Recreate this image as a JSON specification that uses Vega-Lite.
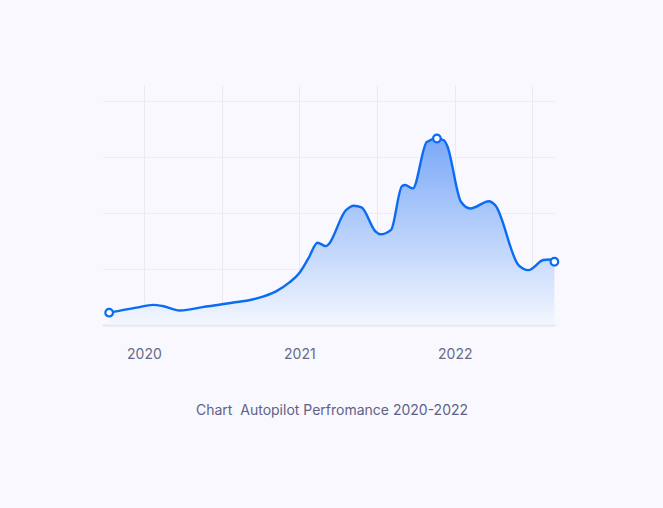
{
  "$schema": "https://vega.github.io/schema/vega-lite/v6.json",
  "width": 453,
  "height": 240,
  "autosize": {"type": "none"},
  "padding": {"left": 102, "top": 85, "right": 108, "bottom": 183},
  "background": "#F8F8FE",
  "config": {
    "view": {"stroke": null},
    "font": "Inter",
    "axis": {"labelFont": "Inter", "titleFont": "Inter"}
  },
  "data": {
    "values": [
      {"t": 2019.776, "v": 0.22},
      {"t": 2019.95, "v": 0.31},
      {"t": 2020.06, "v": 0.36},
      {"t": 2020.12, "v": 0.34},
      {"t": 2020.23, "v": 0.26},
      {"t": 2020.4, "v": 0.33},
      {"t": 2020.6, "v": 0.41},
      {"t": 2020.72, "v": 0.47},
      {"t": 2020.85, "v": 0.6},
      {"t": 2020.936, "v": 0.76},
      {"t": 2021.0, "v": 0.93},
      {"t": 2021.06, "v": 1.2},
      {"t": 2021.117, "v": 1.47},
      {"t": 2021.17, "v": 1.41},
      {"t": 2021.3, "v": 2.05},
      {"t": 2021.35, "v": 2.13},
      {"t": 2021.4, "v": 2.1},
      {"t": 2021.49, "v": 1.67},
      {"t": 2021.52, "v": 1.62},
      {"t": 2021.59, "v": 1.7},
      {"t": 2021.66, "v": 2.48},
      {"t": 2021.68, "v": 2.5},
      {"t": 2021.73, "v": 2.44},
      {"t": 2021.82, "v": 3.27},
      {"t": 2021.885, "v": 3.33},
      {"t": 2021.93, "v": 3.3},
      {"t": 2021.95, "v": 3.21},
      {"t": 2022.04, "v": 2.2},
      {"t": 2022.1, "v": 2.08},
      {"t": 2022.22, "v": 2.21},
      {"t": 2022.26, "v": 2.14},
      {"t": 2022.41, "v": 1.07},
      {"t": 2022.474, "v": 0.98},
      {"t": 2022.57, "v": 1.16},
      {"t": 2022.61, "v": 1.17},
      {"t": 2022.641, "v": 1.13}
    ]
  },
  "encoding": {
    "x": {
      "field": "t",
      "type": "quantitative",
      "scale": {"domain": [2019.73, 2022.645], "nice": false, "zero": false},
      "axis": {
        "values": [2020, 2020.5, 2021, 2021.5, 2022, 2022.5],
        "labelExpr": "datum.value % 1 === 0 ? format(datum.value, 'd') : ''",
        "grid": true,
        "gridColor": "#E9E9F1",
        "gridWidth": 1,
        "ticks": false,
        "domain": true,
        "domainColor": "#E6E6EE",
        "domainWidth": 2,
        "labelFontSize": 14,
        "labelColor": "#676A8A",
        "labelPadding": 22,
        "labelBaseline": "top",
        "title": "Chart\u00a0 Autopilot Perfromance 2020-2022",
        "titleFontSize": 14,
        "titleFontWeight": "normal",
        "titleColor": "#5F6287",
        "titleX": 229.5,
        "titleY": 85,
        "titleBaseline": "middle",
        "titleAlign": "center"
      }
    },
    "y": {
      "field": "v",
      "type": "quantitative",
      "scale": {"domain": [0, 4.286], "nice": false},
      "axis": {
        "values": [1, 2, 3, 4],
        "grid": true,
        "gridColor": "#EDEDF3",
        "labels": false,
        "ticks": false,
        "domain": false,
        "title": null
      }
    }
  },
  "layer": [
    {
      "mark": {
        "type": "area",
        "interpolate": "monotone",
        "color": {
          "gradient": "linear",
          "x1": 0, "y1": 0, "x2": 0, "y2": 1,
          "stops": [
            {"offset": 0, "color": "#7BA9F8"},
            {"offset": 1, "color": "#F3F6FE"}
          ]
        }
      }
    },
    {
      "mark": {"type": "line", "interpolate": "monotone", "color": "#0A6CF2", "strokeWidth": 2.4}
    },
    {
      "transform": [
        {"joinaggregate": [
          {"op": "max", "field": "v", "as": "vmax"},
          {"op": "min", "field": "t", "as": "tmin"},
          {"op": "max", "field": "t", "as": "tmax"}
        ]},
        {"filter": "datum.v === datum.vmax || datum.t === datum.tmin || datum.t === datum.tmax"}
      ],
      "mark": {"type": "point", "filled": true, "fill": "#FFFFFF", "stroke": "#0A6CF2", "strokeWidth": 2.2, "size": 58, "opacity": 1}
    }
  ]
}
